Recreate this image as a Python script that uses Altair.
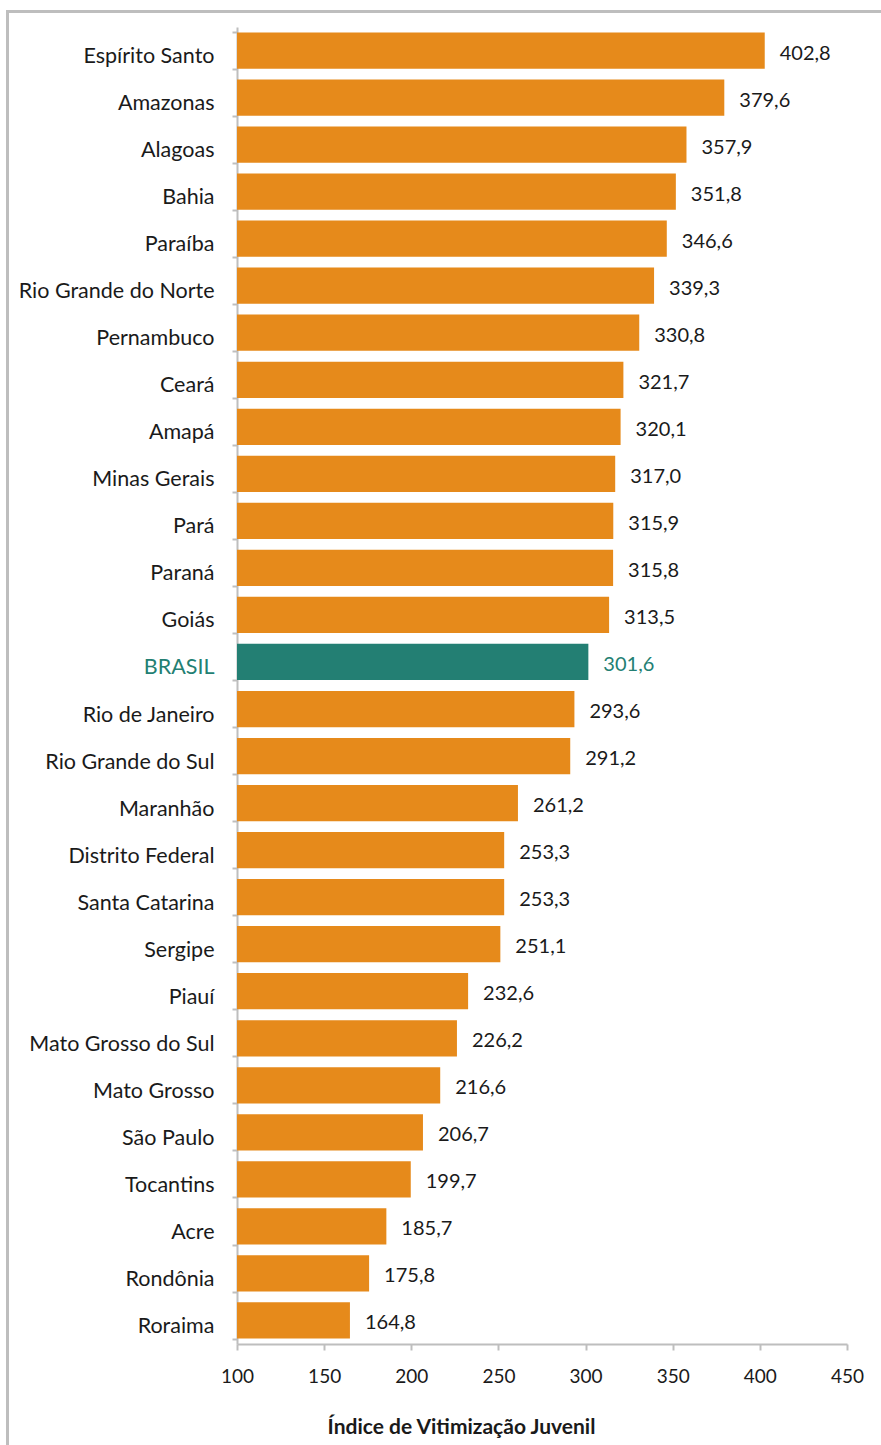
import altair as alt
import pandas as pd

states = ["Espírito Santo", "Amazonas", "Alagoas", "Bahia", "Paraíba", "Rio Grande do Norte",
          "Pernambuco", "Ceará", "Amapá", "Minas Gerais", "Pará", "Paraná", "Goiás", "BRASIL",
          "Rio de Janeiro", "Rio Grande do Sul", "Maranhão", "Distrito Federal", "Santa Catarina",
          "Sergipe", "Piauí", "Mato Grosso do Sul", "Mato Grosso", "São Paulo", "Tocantins",
          "Acre", "Rondônia", "Roraima"]
values = [402.8, 379.6, 357.9, 351.8, 346.6, 339.3, 330.8, 321.7, 320.1, 317.0, 315.9, 315.8,
          313.5, 301.6, 293.6, 291.2, 261.2, 253.3, 253.3, 251.1, 232.6, 226.2, 216.6, 206.7,
          199.7, 185.7, 175.8, 164.8]
x_ticks = [100, 150, 200, 250, 300, 350, 400, 450]

ORANGE = "#E68A1B"
TEAL = "#237F73"
TEXT = "#1a1a1a"
GRAY = "#BEBEBE"
FONT = "Lato"

df = pd.DataFrame({
    "estado": states,
    "valor": values,
    "label": [f"{v:.1f}".replace(".", ",") for v in values],
    "grupo": ["Brasil" if s == "BRASIL" else "UF" for s in states],
})

y_enc = alt.Y("estado:N", sort=states,
              scale=alt.Scale(paddingInner=0.23, paddingOuter=0.115),
              axis=alt.Axis(title=None, labelFontSize=21.5, labelFont=FONT, labelLimit=400,
                            labelColor=alt.ExprRef("datum.value == 'BRASIL' ? '#237F73' : '#1a1a1a'"),
                            tickBand="extent", tickSize=5, tickColor=GRAY, tickWidth=2,
                            domainColor=GRAY, domainWidth=2, labelPadding=18, labelOffset=6))
x_scale = alt.Scale(domain=[100, 450], nice=False, zero=False, clamp=False)

bars = alt.Chart(df).mark_bar().encode(
    x=alt.X("valor:Q", scale=x_scale,
            axis=alt.Axis(values=x_ticks, title="Índice de Vitimização Juvenil",
                          labelFontSize=19, labelFont=FONT, labelColor=TEXT, labelFlush=False,
                          tickSize=6, tickColor=GRAY, tickWidth=2, domainColor=GRAY,
                          domainWidth=2, labelPadding=17, grid=False,
                          titleFont=FONT, titleFontSize=21, titleFontWeight="bold",
                          titleColor=TEXT, titleX=224, titleY=89, titleAlign="center",
                          titleBaseline="alphabetic")),
    x2=alt.datum(100),
    y=y_enc,
    color=alt.Color("grupo:N", scale=alt.Scale(domain=["UF", "Brasil"], range=[ORANGE, TEAL]),
                    legend=None),
)

labels = alt.Chart(df).mark_text(align="left", baseline="middle", dx=15, dy=3, fontSize=20,
                                 font=FONT).encode(
    x=alt.X("valor:Q", scale=x_scale),
    y=alt.Y("estado:N", sort=states),
    text="label:N",
    color=alt.Color("grupo:N", scale=alt.Scale(domain=["UF", "Brasil"], range=[TEXT, TEAL]),
                    legend=None),
)

frame_top = alt.Chart(df).mark_rule(color=GRAY, strokeWidth=3).encode(
    x=alt.value(-230), x2=alt.value(700), y=alt.value(-15.5))
frame_left = alt.Chart(df).mark_rule(color=GRAY, strokeWidth=3).encode(
    x=alt.value(-229.5), y=alt.value(-17), y2=alt.value(1500))

chart = alt.layer(bars, labels, frame_top, frame_left).resolve_scale(color="independent").properties(
    width=610, height=1317,
    autosize=alt.AutoSizeParams(type="none"),
    padding={"left": 237, "top": 27, "right": 34, "bottom": 101},
    view=alt.ViewBackground(stroke="transparent", strokeWidth=0),
).configure_view(stroke="transparent", strokeWidth=0).configure(background="white")

chart.save("out.html", embed_options={"renderer": "svg", "actions": False})
